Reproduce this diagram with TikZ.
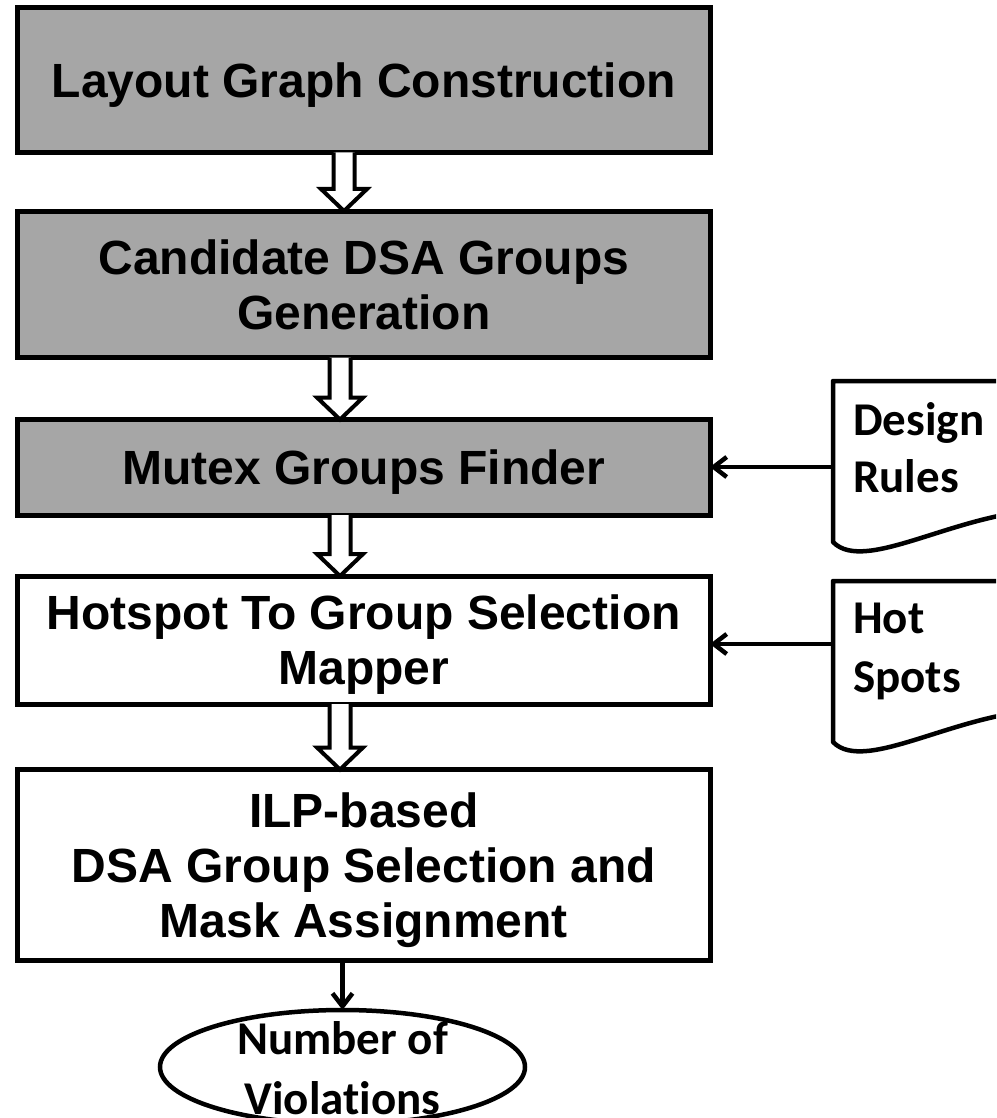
\documentclass[tikz,border=0pt]{standalone}
\usepackage{fontspec}
\setmainfont{Liberation Sans}
\newfontfamily\calib[Ligatures=NoCommon]{Carlito}
\usetikzlibrary{arrows.meta,calc,shapes.geometric}
\definecolor{boxgray}{RGB}{166,166,166}
\newcommand\hollowarr[3]{%
  \draw[hollow] ($(#1.south -| #3)+(-10.5,0)$) -- ($(#2.north -| #3)+(-10.5,-22)$)
    -- ($(#2.north -| #3)+(-23,-22)$) -- (#2.north -| #3)
    -- ($(#2.north -| #3)+(23,-22)$) -- ($(#2.north -| #3)+(10.5,-22)$)
    -- ($(#1.south -| #3)+(10.5,0)$);}
\begin{document}
\begin{tikzpicture}[x=1pt,y=-1pt,
  box/.style={draw, line width=5pt, rectangle, outer sep=0pt, inner sep=0pt,
    minimum width=692.5pt, align=center, text depth=0pt,
    font=\fontsize{48}{55}\selectfont\bfseries},
  shaded/.style={fill=boxgray},
  hollow/.style={draw, line width=4pt, line join=miter, fill=white},
  conn/.style={draw, line width=4.5pt, -{Straight Barb[length=13pt,width=20pt]}},
  doc/.style={draw, line width=4.5pt, line join=round, fill=white},
  doctext/.style={font=\calib\fontsize{47}{58}\selectfont\bfseries, anchor=base west, inner sep=0pt},
  elltext/.style={font=\calib\fontsize{47}{58}\selectfont\bfseries, anchor=base, inner sep=0pt},
]
\useasboundingbox (0,0) rectangle (996,1118);
\clip (0,0) rectangle (996,1118);

% main boxes
\node[box,shaded,minimum height=144.5pt] (b1) at (363.75,80.25) {Layout Graph Construction};
\node[box,shaded,minimum height=146.5pt] (b2) at (363.75,284.25) {Candidate DSA Groups\\Generation};
\node[box,shaded,minimum height=95.5pt] (b3) at (363.75,467.25) {Mutex Groups Finder};
\node[box,minimum height=128pt] (b4) at (363.75,640) {Hotspot To Group Selection\\Mapper};
\node[box,minimum height=191pt] (b5) at (363.75,865) {ILP-based\\DSA Group Selection and\\Mask Assignment};

% x positions of hollow arrows
\coordinate (xa) at (344,0);
\coordinate (xb) at (340,0);
\hollowarr{b1}{b2}{xa}
\hollowarr{b2}{b3}{xb}
\hollowarr{b3}{b4}{xb}
\hollowarr{b4}{b5}{xb}

% output ellipse
\node[draw, ellipse, line width=4.5pt, minimum width=365pt, minimum height=114pt,
  inner sep=0pt, outer sep=0pt] (nv) at (342.5,1067) {};
\node[elltext] (nv1) at (342.5,1054) {Number of};
\node[elltext] (nv2) at (342.5,1114) {Violations};
\draw[conn] (b5.south -| nv) -- (nv.north);

% document shapes
\draw[doc] (833,542) -- (833,381) -- (1050,381) -- (1050,510)
  .. controls (960,510) and (865,575) .. (833,542) -- cycle;
\node[doctext] (dr1) at (853,435) {Design};
\node[doctext] (dr2) at (853,492) {Rules};
\coordinate (drL) at (833,467);
\draw[conn] (drL) -- (drL -| b3.east);

\draw[doc] (833,742) -- (833,581) -- (1050,581) -- (1050,710)
  .. controls (960,710) and (865,775) .. (833,742) -- cycle;
\node[doctext] (hs1) at (853,633) {Hot};
\node[doctext] (hs2) at (853,692) {Spots};
\coordinate (hsL) at (833,644);
\draw[conn] (hsL) -- (hsL -| b4.east);
\end{tikzpicture}
\end{document}
